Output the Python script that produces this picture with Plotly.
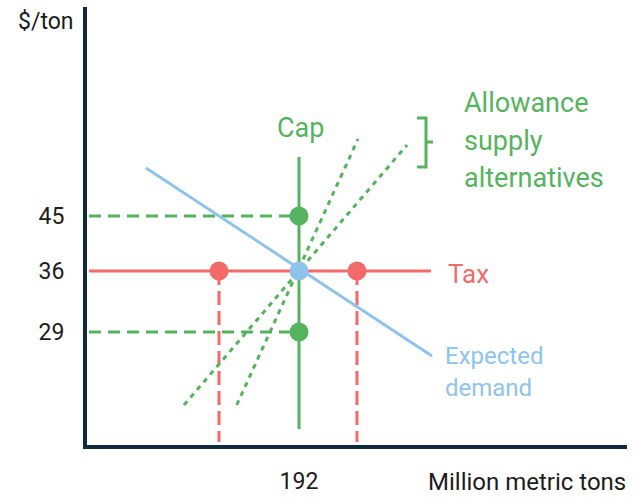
import plotly.graph_objects as go

# Schematic coordinates (arbitrary units; origin at the axes corner)
price_labels = ["45", "36", "29"]
price_pos = [231, 176, 115]          # schematic heights of the price levels
qty_label = ["192"]
qty_pos = [214]                      # schematic position of the cap quantity

tax_level = 176
tax_span = [4, 346]
tax_qty = [134, 272]                 # quantities at the tax (red dots)

cap_span = [18, 290]
cap_prices = [231, 115]              # 45 and 29 on the cap line

demand_x = [61, 347]
demand_y = [279, 91]

supply_steep_x = [151.7, 273]
supply_steep_y = [42, 308]
supply_flat_x = [99, 322]
supply_flat_y = [42, 302]

bracket_x = [332, 341, 341, 332, None, 341, 348]
bracket_y = [329, 329, 280, 280, None, 305, 305]

GREEN = "#55b35f"
RED = "#f26a6a"
BLUE = "#8fc3ea"
DARK = "#0e2a3c"
TXT = "#1c1c1c"
FONT = "Roboto"

fig = go.Figure()

# green dashed guides for 45 and 29
for p in cap_prices:
    fig.add_trace(go.Scatter(x=[4, qty_pos[0]], y=[p, p], mode="lines",
                             line=dict(color=GREEN, width=3, dash="12px,7px"),
                             hoverinfo="skip"))
# red dashed verticals
for q in tax_qty:
    fig.add_trace(go.Scatter(x=[q, q], y=[tax_level, 5], mode="lines",
                             line=dict(color=RED, width=3, dash="14px,6px"),
                             hoverinfo="skip"))
# supply alternatives (dotted)
fig.add_trace(go.Scatter(x=supply_steep_x, y=supply_steep_y, mode="lines",
                         line=dict(color=GREEN, width=3, dash="5px,5px"), hoverinfo="skip"))
fig.add_trace(go.Scatter(x=supply_flat_x, y=supply_flat_y, mode="lines",
                         line=dict(color=GREEN, width=3, dash="5px,5px"), hoverinfo="skip"))
# tax line
fig.add_trace(go.Scatter(x=tax_span, y=[tax_level, tax_level], mode="lines",
                         line=dict(color=RED, width=3), hoverinfo="skip"))
# cap line
fig.add_trace(go.Scatter(x=[qty_pos[0], qty_pos[0]], y=cap_span, mode="lines",
                         line=dict(color=GREEN, width=3), hoverinfo="skip"))
# demand
fig.add_trace(go.Scatter(x=demand_x, y=demand_y, mode="lines",
                         line=dict(color=BLUE, width=3), hoverinfo="skip"))
# bracket
fig.add_trace(go.Scatter(x=bracket_x, y=bracket_y, mode="lines",
                         line=dict(color=GREEN, width=3), hoverinfo="skip"))
# dots
fig.add_trace(go.Scatter(x=tax_qty, y=[tax_level] * 2, mode="markers",
                         marker=dict(color=RED, size=19), hoverinfo="skip"))
fig.add_trace(go.Scatter(x=[qty_pos[0]] * 2, y=cap_prices, mode="markers",
                         marker=dict(color=GREEN, size=19), hoverinfo="skip"))
fig.add_trace(go.Scatter(x=qty_pos, y=[tax_level], mode="markers",
                         marker=dict(color=BLUE, size=19), hoverinfo="skip"))

ann = []
def A(text, x, y, color, size=27, xanchor="left", yanchor="middle", ref="data"):
    xr, yr = ("x", "y") if ref == "data" else ("paper", "paper")
    ann.append(dict(text=text, x=x, y=y, xref=xr, yref=yr, showarrow=False,
                    xanchor=xanchor, yanchor=yanchor,
                    font=dict(family=FONT, size=size, color=color)))

# paper coords: plot area spans x 87..627 px, y 7..445 px
A("$/ton", (45.5 - 87) / 540, (445 - 21) / 438, TXT, size=23, xanchor="center", ref="paper")
A("Cap", 215, 319, GREEN, xanchor="center")
A("Allowance", 377, 344, GREEN)
A("supply", 377, 306, GREEN)
A("alternatives", 377, 269, GREEN)
A("Tax", 361, 173, RED, size=26)
A("Expected", 358, 91, BLUE, size=24)
A("demand", 358, 59, BLUE, size=24)
A("Million metric tons", (628 - 87) / 540, (445 - 482) / 438, TXT, size=24,
  xanchor="right", ref="paper")

fig.update_layout(
    width=640, height=497,
    margin=dict(l=87, r=13, t=7, b=52, autoexpand=False),
    paper_bgcolor="white", plot_bgcolor="white",
    showlegend=False,
    annotations=ann,
    xaxis=dict(range=[2, 542], showgrid=False, zeroline=False,
               showline=True, linewidth=4, linecolor=DARK, automargin=False,
               tickmode="array", tickvals=qty_pos, ticktext=qty_label,
               ticks="", ticklabelstandoff=12,
               tickfont=dict(family=FONT, size=23, color=TXT)),
    yaxis=dict(range=[2, 440], showgrid=False, zeroline=False,
               showline=True, linewidth=4, linecolor=DARK, automargin=False,
               tickmode="array", tickvals=price_pos, ticktext=price_labels,
               ticks="", ticklabelstandoff=14,
               tickfont=dict(family=FONT, size=23, color=TXT)),
)

fig.write_html("out.html", config={"displayModeBar": False},
               post_script="document.body.style.margin='0';")
